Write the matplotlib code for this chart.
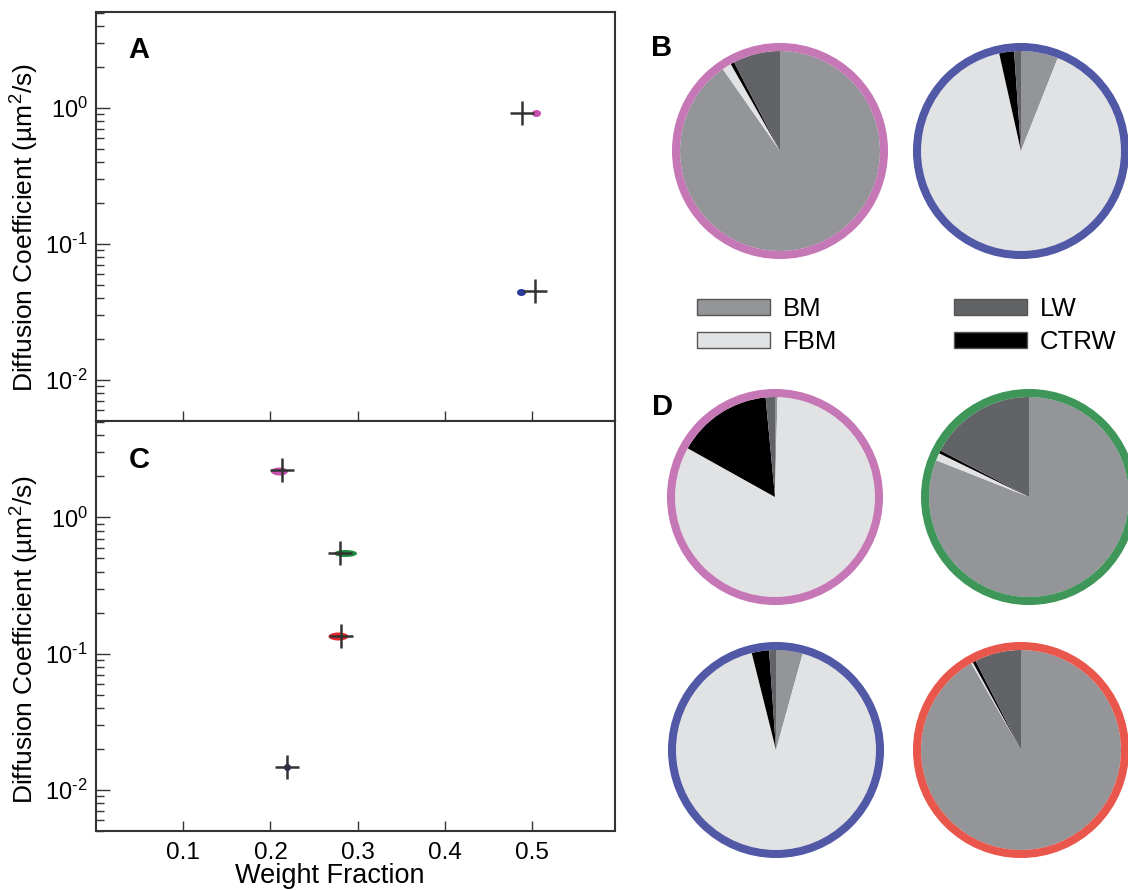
import numpy as np
import matplotlib
matplotlib.use('Agg')
import matplotlib.pyplot as plt
from matplotlib.patches import Patch, Circle
from matplotlib.ticker import LogLocator, NullFormatter, FixedLocator, FixedFormatter

plt.rcParams['font.family'] = ['Liberation Sans', 'DejaVu Sans']
plt.rcParams['mathtext.fontset'] = 'custom'
plt.rcParams['mathtext.rm'] = 'Liberation Sans'
plt.rcParams['mathtext.it'] = 'Liberation Sans:italic'
plt.rcParams['mathtext.bf'] = 'Liberation Sans:bold'
plt.rcParams['axes.unicode_minus'] = False

# ---------------- data ----------------
# Panel A
a_groups = ['pink', 'blue']
a_mean_x = [0.488, 0.503]
a_mean_y = [0.92, 0.045]
a_cloud_x = [0.504, 0.487]
a_cloud_y = [0.92, 0.0445]

# Panel C
c_groups = ['pink', 'green', 'red', 'blue_dark']
c_mean_x = [0.213, 0.280, 0.2805, 0.2186]
c_mean_y = [2.22, 0.544, 0.1356, 0.01476]
c_cloud_x = [0.2103, 0.2854, 0.2774, 0.2186]
c_cloud_y = [2.19, 0.544, 0.1356, 0.01476]

x_ticks = [0.1, 0.2, 0.3, 0.4, 0.5]
x_tick_labels = ['0.1', '0.2', '0.3', '0.4', '0.5']
y_ticks = [0.01, 0.1, 1.0]
y_tick_labels = ['10$^{\u20102}$', '10$^{\u20101}$', '10$^{0}$']

# Pie charts: percentages in order of motion_types
motion_types = ['BM', 'FBM', 'LW', 'CTRW']
pie_b_pink = [90.3, 1.5, 7.6, 0.6]
pie_b_blue = [6.0, 90.5, 1.1, 2.4]
pie_d_pink = [0.4, 82.7, 1.5, 15.4]
pie_d_green = [81.0, 1.2, 17.3, 0.5]
pie_d_blue = [4.3, 91.8, 1.1, 2.8]
pie_d_red = [91.7, 0.3, 7.5, 0.5]

# ---------------- styles ----------------
W, H = 1128, 890
cloud_colors = {'pink': '#c550ad', 'blue': '#2c3a9b', 'green': '#1e8c40',
                'red': '#e5262b', 'blue_dark': '#1d2a78'}
ring_colors = {'pink': '#c677b5', 'blue': '#5158a6', 'green': '#3e9659', 'red': '#e9574c'}
motion_colors = {'BM': '#939598', 'FBM': '#e1e2e4', 'LW': '#626366', 'CTRW': '#000000'}
draw_order = ['BM', 'FBM', 'CTRW', 'LW']
a_cloud_size = [(9, 7), (9, 7)]           # px (w, h)
c_cloud_size = [(17, 8), (23, 7), (20, 8), (7, 7)]
cross_color = '#333333'
axis_color = '#333333'


def ellipse_marker(w, h):
    t = np.linspace(0, 2 * np.pi, 60)
    return np.column_stack([w / 2 * np.cos(t), h / 2 * np.sin(t)])


fig = plt.figure(figsize=(W / 100, H / 100), dpi=100)


def px_axes(x0, y0, x1, y1):
    return fig.add_axes([x0 / W, 1 - y1 / H, (x1 - x0) / W, (y1 - y0) / H])


def style_scatter_axes(ax, show_xlabels):
    ax.set_yscale('log')
    ax.set_xlim(0, 0.595)
    ax.set_ylim(0.005, 5.1)
    ax.xaxis.set_major_locator(FixedLocator(x_ticks))
    if show_xlabels:
        ax.xaxis.set_major_formatter(FixedFormatter(x_tick_labels))
    else:
        ax.xaxis.set_major_formatter(NullFormatter())
    ax.yaxis.set_major_locator(FixedLocator(y_ticks))
    ax.yaxis.set_major_formatter(FixedFormatter(y_tick_labels))
    ax.yaxis.set_minor_locator(LogLocator(base=10, subs=np.arange(2, 10), numticks=20))
    ax.yaxis.set_minor_formatter(NullFormatter())
    ax.tick_params(axis='y', which='major', direction='in', length=10, width=1,
                   color=axis_color, labelsize=17, pad=6)
    ax.tick_params(axis='y', which='minor', direction='in', length=6, width=1,
                   color=axis_color)
    ax.tick_params(axis='x', which='major', direction='in', length=7, width=1,
                   color=axis_color, labelsize=17.5, pad=8)
    ax.tick_params(axis='x', which='minor', bottom=False)
    for s in ax.spines.values():
        s.set_linewidth(1.5)
        s.set_color(axis_color)
    ax.set_ylabel('Diffusion Coefficient (µm$^2$/s)', fontsize=19)


def draw_points(ax, groups, mx, my, cx, cy, sizes):
    for g, x, y, (w, h) in zip(groups, cx, cy, sizes):
        ax.plot([x], [y], ls='none', marker=ellipse_marker(w, h), ms=w * 0.72,
                mfc=cloud_colors[g], mec='none', zorder=2)
    ax.plot(mx, my, ls='none', marker='+', ms=17.5, mew=1.8, color=cross_color, zorder=3)


# Panel A
axA = px_axes(96, 12, 615, 421)
style_scatter_axes(axA, False)
draw_points(axA, a_groups, a_mean_x, a_mean_y, a_cloud_x, a_cloud_y, a_cloud_size)
axA.yaxis.set_label_coords(-0.106, 0.472)
axA.text(0.083, 0.907, 'A', transform=axA.transAxes, fontsize=21, fontweight='bold',
         ha='center', va='center')

# Panel C
axC = px_axes(96, 421, 615, 831)
style_scatter_axes(axC, True)
draw_points(axC, c_groups, c_mean_x, c_mean_y, c_cloud_x, c_cloud_y, c_cloud_size)
axC.yaxis.set_label_coords(-0.106, 0.466)
axC.set_xlabel('Weight Fraction', fontsize=19.5)
axC.xaxis.set_label_coords(0.451, -0.078)
axC.text(0.083, 0.905, 'C', transform=axC.transAxes, fontsize=21, fontweight='bold',
         ha='center', va='center')


# Pies
def draw_pie(cx, cy, values, ring):
    R = 110
    ax = px_axes(cx - R, cy - R, cx + R, cy + R)
    vals = [values[motion_types.index(m)] for m in draw_order]
    cols = [motion_colors[m] for m in draw_order]
    ax.pie(vals, colors=cols, startangle=90, counterclock=False, radius=1.0,
           wedgeprops=dict(linewidth=0))
    ax.add_patch(Circle((0, 0), 1.04, fill=False, edgecolor=ring_colors[ring],
                        linewidth=5.8))
    ax.set_xlim(-1.1, 1.1)
    ax.set_ylim(-1.1, 1.1)
    ax.set_aspect('equal')
    ax.axis('off')


draw_pie(780, 151, pie_b_pink, 'pink')
draw_pie(1021, 151, pie_b_blue, 'blue')
draw_pie(775, 497, pie_d_pink, 'pink')
draw_pie(1029, 497, pie_d_green, 'green')
draw_pie(776, 750, pie_d_blue, 'blue')
draw_pie(1021, 750, pie_d_red, 'red')

fig.text(662 / W, 1 - 48 / H, 'B', fontsize=21, fontweight='bold', ha='center', va='center')
fig.text(662 / W, 1 - 407 / H, 'D', fontsize=21, fontweight='bold', ha='center', va='center')

# Legend
handles = [Patch(facecolor=motion_colors[m], edgecolor='#555555', linewidth=1.0)
           for m in motion_types]
fig.legend(handles, motion_types, ncol=2, loc='upper left',
           bbox_to_anchor=(697 / W, 1 - 297 / H), frameon=False, fontsize=18.5,
           handlelength=2.84, handleheight=0.62, handletextpad=0.5,
           columnspacing=4.55, labelspacing=0.35, borderpad=0, borderaxespad=0)

fig.savefig('out.png', dpi=100)
